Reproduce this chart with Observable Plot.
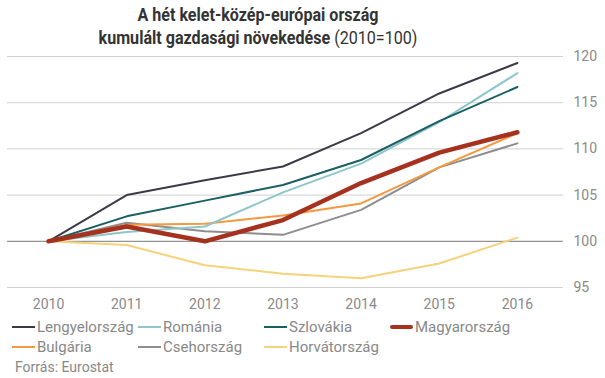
<!DOCTYPE html>
<html><head><meta charset="utf-8">
<script src="https://cdn.jsdelivr.net/npm/d3@7"></script>
<script src="https://cdn.jsdelivr.net/npm/@observablehq/plot@0.6"></script>
<style>
body{margin:0;background:#fff;font-family:Roboto,"Noto Sans",sans-serif;}
#wrap{width:605px;height:378px;position:relative;overflow:hidden;}
#title{position:absolute;left:0;top:4px;width:516px;text-align:center;color:#333;font-size:18.5px;line-height:23px;font-weight:700;transform:scaleX(0.87);transform-origin:258px 0;}
#title .n{font-weight:400;}
#chart{position:absolute;left:0;top:48px;}
#legend{position:absolute;left:12px;top:317px;font-size:15px;color:#888;}
.item{position:absolute;width:126px;height:20px;display:flex;align-items:center;white-space:nowrap;}
.sw{width:23px;margin-right:2px;}
#src{position:absolute;left:15px;top:359px;font-size:14px;color:#888;}
</style></head><body>
<div id="wrap">
<div id="title">A hét kelet-közép-európai ország<br>kumulált gazdasági növekedése <span class="n">(2010=100)</span></div>
<div id="chart"></div>
<div id="legend"></div>
<div id="src">Forrás: Eurostat</div>
</div>
<script>
const years = [2010, 2011, 2012, 2013, 2014, 2015, 2016];
const countries = ["Lengyelország", "Románia", "Szlovákia", "Magyarország", "Bulgária", "Csehország", "Horvátország"];
const colors = ["#3b3b47", "#8ec6cb", "#1b5f64", "#a5321f", "#f5983f", "#8d8d8d", "#f5d27c"];
const widths = [2, 2, 2, 4.5, 2, 2, 2];
const lengyel = [100, 105.0, 106.6, 108.1, 111.7, 116.0, 119.3];
const romania = [100, 101.0, 101.6, 105.3, 108.4, 112.9, 118.2];
const szlovakia = [100, 102.7, 104.4, 106.1, 108.8, 113.0, 116.7];
const magyar = [100, 101.6, 100.0, 102.3, 106.3, 109.6, 111.8];
const bulgaria = [100, 101.8, 101.9, 102.8, 104.1, 108.0, 111.7];
const cseh = [100, 102.0, 101.1, 100.7, 103.4, 108.0, 110.6];
const horvat = [100, 99.6, 97.4, 96.5, 96.0, 97.6, 100.4];
const yTicks = [95, 100, 105, 110, 115, 120];

const series = [lengyel, romania, szlovakia, magyar, bulgaria, cseh, horvat];
const data = [];
series.forEach((vals, i) => vals.forEach((v, j) => data.push({country: countries[i], year: years[j], value: v, idx: i})));
const drawOrder = [6, 5, 4, 1, 2, 0, 3];

const marks = [
  Plot.ruleY(yTicks.filter(t => t !== 100), {stroke: "#d0d0d0", strokeWidth: 1}),
  Plot.ruleY([100], {stroke: "#7a7a7a", strokeWidth: 1}),
  ...drawOrder.map(i => Plot.line(data.filter(d => d.idx === i), {
    x: "year", y: "value", stroke: colors[i], strokeWidth: widths[i], strokeLinejoin: "round"
  })),
  Plot.axisY(yTicks, {anchor: "right", tickSize: 0, tickPadding: 10, textAnchor: "start", fontSize: 14, fill: "#8a8a8a", label: null}),
  Plot.axisX(years, {tickSize: 0, tickPadding: 12, fontSize: 14, fill: "#8a8a8a", tickFormat: d => String(d), label: null})
];

const chart = Plot.plot({
  width: 605, height: 270,
  marginLeft: 7, marginRight: 42, marginTop: 8, marginBottom: 31,
  x: {domain: [2009.475, 2016.59]},
  y: {domain: [95, 120]},
  style: {fontFamily: "Roboto, sans-serif", background: "transparent"},
  marks
});
document.getElementById("chart").appendChild(chart);

const leg = document.getElementById("legend");
countries.forEach((c, i) => {
  const it = document.createElement("div");
  it.className = "item";
  it.style.left = (i % 4) * 126 + "px";
  it.style.top = Math.floor(i / 4) * 20 + "px";
  it.innerHTML = `<span class="sw" style="height:${i===3?4.5:2.5}px;background:${colors[i]};border-radius:${i===3?2:0}px"></span>${c}`;
  leg.appendChild(it);
});
</script>
</body></html>
